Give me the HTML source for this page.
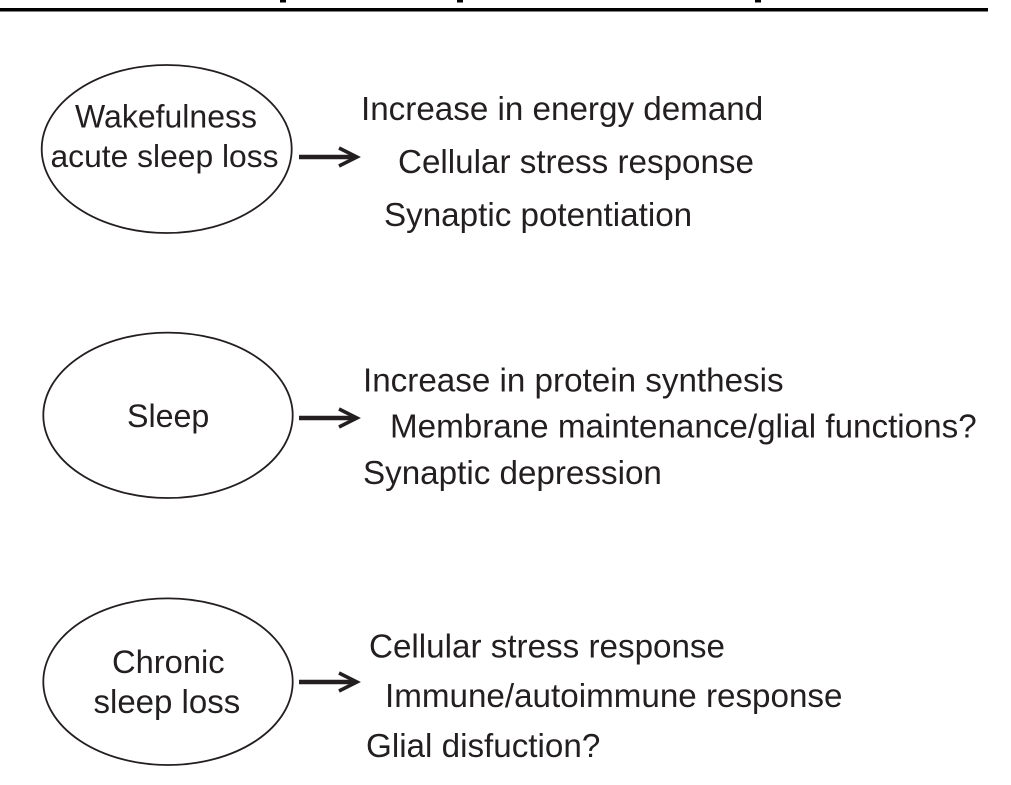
<!DOCTYPE html>
<html><head><meta charset="utf-8"><style>
html,body{margin:0;padding:0;background:#fff}
svg{display:block}
text{font-family:"Liberation Sans",Arial,sans-serif;font-size:33.2px;fill:#231f20}
</style></head><body>
<svg width="1011" height="785" viewBox="0 0 1011 785">
<rect x="0" y="8" width="988" height="3.500" fill="#000"/>
<rect x="280" y="0" width="6" height="2.500" fill="#000"/>
<rect x="457" y="0" width="6" height="2.500" fill="#000"/>
<rect x="755" y="0" width="6" height="2.500" fill="#000"/>
<g fill="none" stroke="#231f20" stroke-width="1.800">
<ellipse cx="166.700" cy="149" rx="125" ry="84"/>
<ellipse cx="168" cy="415.300" rx="124.700" ry="82.700"/>
<ellipse cx="168" cy="681.700" rx="124.700" ry="83.300"/>
</g>
<g fill="none" stroke="#231f20">
<path d="M299 157H356" stroke-width="4.500"/>
<path d="M339 148L357 157L339 166" stroke-width="3.500"/>
<path d="M299 418H356" stroke-width="4.500"/>
<path d="M339 409L357 418L339 427" stroke-width="3.500"/>
<path d="M299 682H356" stroke-width="4.500"/>
<path d="M339 673L357 682L339 691" stroke-width="3.500"/>
</g>
<text x="75" y="127.300" style="font-size:32px">Wakefulness</text>
<text x="50.500" y="167" style="font-size:31.800px">acute sleep loss</text>
<text x="361" y="120">Increase in energy demand</text>
<text x="398" y="173">Cellular stress response</text>
<text x="384" y="226">Synaptic potentiation</text>
<text x="127" y="427" style="font-size:32.200px">Sleep</text>
<text x="363" y="391.700">Increase in protein synthesis</text>
<text x="390" y="437.500">Membrane maintenance/glial functions?</text>
<text x="363" y="484">Synaptic depression</text>
<text x="112" y="673" style="font-size:32.700px">Chronic</text>
<text x="93.500" y="713" style="font-size:33px">sleep loss</text>
<text x="369" y="657.500">Cellular stress response</text>
<text x="385" y="707">Immune/autoimmune response</text>
<text x="366" y="757">Glial disfuction?</text>
</svg>
</body></html>
